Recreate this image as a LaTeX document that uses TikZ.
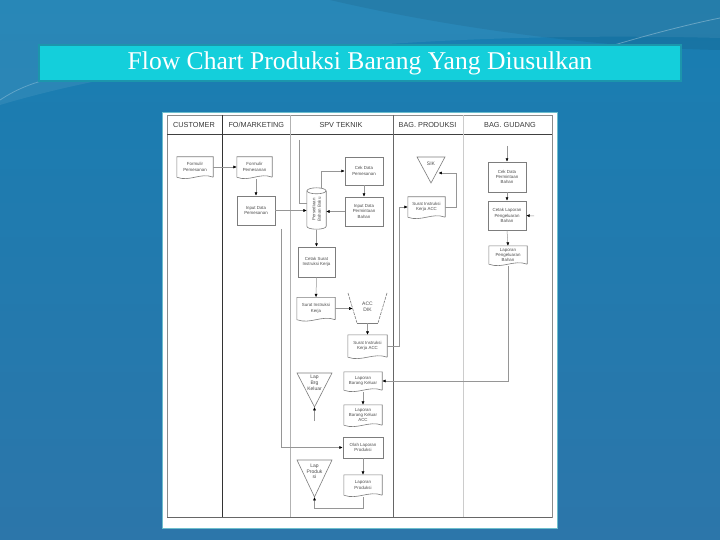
\documentclass[tikz,border=0pt]{standalone}
\usepackage{fontspec}
\setmainfont{Liberation Serif}
\newfontfamily\sansf{Liberation Sans}
\usetikzlibrary{arrows.meta,calc}
\definecolor{bgA}{RGB}{24,126,178}
\definecolor{bgB}{RGB}{44,118,170}
\definecolor{titlefill}{RGB}{20,207,219}
\definecolor{titleedge}{RGB}{28,150,172}
\definecolor{shline}{RGB}{125,125,125}
\definecolor{lnline}{RGB}{150,150,150}
\definecolor{sheetedge}{RGB}{110,190,205}
\newcommand\docoutline[1]{\draw[sh] (#1.south east) -- (#1.north east) -- (#1.north west) -- (#1.south west) .. controls ($(#1.south west)!0.35!(#1.south east)+(0,5)$) and ($(#1.south west)!0.65!(#1.south east)+(0,-5)$) .. (#1.south east);}
\begin{document}
\begin{tikzpicture}[x=1pt,y=-1pt,
  sh/.style={draw=shline,line width=0.6pt},
  lbl/.style={inner sep=0.3pt, align=center, font=\sansf\fontsize{4.4}{5.4}\selectfont, text=black!70},
  box/.style={lbl, sh, fill=white, minimum width=38pt, minimum height=29pt},
  doc/.style={lbl, minimum width=38pt, minimum height=20pt},
  hdr/.style={inner sep=0pt, font=\sansf\fontsize{7.3}{8}\selectfont, text=black!78},
  conn/.style={draw=lnline, line width=0.5pt},
  arr/.style={conn, -{Latex[length=3.4pt,width=3pt,color=black]}},
  lane/.style={line width=0.6pt}
]
\useasboundingbox (0,0) rectangle (720,540);
% background
\shade[top color=bgA,bottom color=bgB] (0,0) rectangle (720,540);
\fill[white,opacity=0.07] (0,0) -- (0,105) .. controls (150,60) and (400,30) .. (720,38) -- (720,0) -- cycle;
\fill[black,opacity=0.07] (330,0) .. controls (450,28) and (600,48) .. (720,50) -- (720,0) -- cycle;
\draw[white,opacity=0.3,line width=0.8pt] (560,62) .. controls (620,42) and (680,26) .. (720,18);
\draw[white,opacity=0.25,line width=0.8pt] (0,100) .. controls (15,90) and (30,84) .. (45,80);
% title
\node[draw=titleedge, line width=1.5pt, fill=titlefill, minimum width=642pt, minimum height=36pt, inner sep=0, font=\fontsize{25.6}{28}\selectfont, text=white] (title) at (360,63) {Flow Chart Produksi Barang Yang Diusulkan};
% sheet
\node[draw=sheetedge, fill=white, line width=0.8pt, minimum width=395pt, minimum height=416pt, inner sep=0] (sheet) at (359.5,320) {};
% lanes
\draw[lane, black!45] (167,115) rectangle (552,517);
\draw[lane, black!75] (167,134) -- (552,134);
\draw[lane, black!80] (222.5,115) -- (222.5,517);
\draw[lane, black!30] (290,115) -- (290,517);
\draw[lane, black!60] (393,115) -- (393,517);
\draw[lane, black!20] (463,115) -- (463,517);
\draw[black!60,line width=1pt] (167,517) -- (552,517);
\node[hdr] (h1) at (194,125) {CUSTOMER};
\node[hdr] (h2) at (256.3,125) {FO/MARKETING};
\node[hdr] (h3) at (341,125) {SPV TEKNIK};
\node[hdr] (h4) at (427.5,125) {BAG. PRODUKSI};
\node[hdr] (h5) at (510,125) {BAG. GUDANG};
% customer / FO
\node[doc, minimum width=36pt] (cf) at (195,167) {Formulir\\Pemesanan}; \docoutline{cf}
\node[doc, minimum width=35pt] (ff) at (254.5,167) {Formulir\\Pemesanan}; \docoutline{ff}
\node[box] (ip) at (256,210.5) {Input Data\\Pemesanan};
% SPV top
\node[box, minimum height=28pt] (cd) at (364,171) {Cek Data\\Pemesanan};
\node[box] (ipb) at (364,211.5) {Input Data\\Permintaan\\Bahan};
\node[minimum width=19pt, minimum height=41pt, inner sep=0] (cyl) at (316.5,208.5) {};
\draw[sh] ($(cyl.north)+(0,3)$) ellipse [x radius=9.5, y radius=3];
\draw[sh] ($(cyl.north west)+(0,3)$) -- ($(cyl.south west)+(0,-3)$) .. controls ($(cyl.south west)+(0,1)$) and ($(cyl.south east)+(0,1)$) .. ($(cyl.south east)+(0,-3)$) -- ($(cyl.north east)+(0,3)$);
\node[lbl, rotate=90] (cyltxt) at ($(cyl.center)+(0,1)$) {Persediaan\\Bahan Baku};
\node[box, minimum width=37pt, minimum height=30pt] (cs) at (316.5,262) {Cetak Surat\\Instruksi Kerja};
\node[doc, minimum height=22pt] (sik) at (316,308.5) {Surat Instruksi\\Kerja}; \docoutline{sik}
% ACC DIK trapezoid
\coordinate (accTL) at (348,293); \coordinate (accTR) at (387,293);
\coordinate (accBL) at (357,323); \coordinate (accBR) at (378,323);
\draw[sh, dashed, dash pattern=on 3pt off 1pt] (accTL) -- (accBL);
\draw[sh, dashed, dash pattern=on 3pt off 1pt] (accTR) -- (accBR);
\draw[sh] (accBL) -- (accBR);
\node[lbl, font=\sansf\fontsize{5}{6}\selectfont] (acc) at (367.5,307) {ACC\\DIK};
\coordinate (accL) at (352.6,308.5);
\coordinate (accB) at (367.5,323);
\node[doc, minimum width=39pt, minimum height=22pt] (sika) at (367.5,346) {Surat Instruksi\\Kerja ACC}; \docoutline{sika}
% SPV bottom
\node[doc, minimum height=18pt] (lbk) at (363,381) {Laporan\\Barang Keluar}; \docoutline{lbk}
\node[doc] (lbka) at (363,415) {Laporan\\Barang Keluar\\ACC}; \docoutline{lbka}
\draw[sh] (297,373) -- (332,373) -- (314.5,407) -- cycle;
\coordinate (lbtA) at (314.5,407);
\node[lbl, font=\sansf\fontsize{5}{5.8}\selectfont] (lbt) at (314.5,383) {Lap\\Brg\\Keluar};
\coordinate (lbtIn) at (314.5,421);
\node[box, minimum width=40pt, minimum height=21pt] (olp) at (363,447.5) {Olah Laporan\\Produksi};
\node[doc] (lp) at (363,485) {Laporan\\Produksi}; \docoutline{lp}
\draw[sh] (297,460) -- (332,460) -- (314.5,497) -- cycle;
\coordinate (lptA) at (314.5,497);
\node[lbl, font=\sansf\fontsize{5}{5.8}\selectfont] (lpt) at (314.5,471.5) {Lap\\Produk\\si};
% Produksi
\draw[sh] (417,157) -- (445,157) -- (431,183) -- cycle;
\node[lbl, font=\sansf\fontsize{5}{6}\selectfont] (sikt) at (431,164) {SIK};
\coordinate (siktR) at (438.5,173);
\node[doc, minimum width=37pt] (psik) at (426.5,207) {Surat Instruksi\\Kerja ACC}; \docoutline{psik}
% Gudang
\node[box, minimum height=30pt] (cdp) at (507,177) {Cek Data\\Permintaan\\Bahan};
\node[box] (clp) at (507,215.5) {Cetak Laporan\\Pengeluaran\\Bahan};
\node[doc, minimum height=18pt] (lpb) at (508,255) {Laporan\\Pengeluaran\\Bahan}; \docoutline{lpb}
\coordinate (g0) at (507,146);
\coordinate (g1) at (534,216);
\coordinate (t1) at (299,140);
\coordinate (j1) at (281,229);
% connectors
\draw[arr] (cf.east) -- (ff.west);
\draw[arr] (ff.south) ++(1.5,2) -- (ip.north);
\draw[arr] (ip.east) -- (ip.east -| cyl.west);
\draw[arr] (j1) |- (olp.west);
\draw[conn] (t1) |- ($(cyl.west)+(0,-5.5)$);
\draw[arr] ($(cyl.north)+(5,0)$) |- (cd.west);
\draw[arr] (cd.south) -- (ipb.north);
\draw[arr] (ipb.west) -- (ipb.west -| cyl.east);
\draw[arr] ($(cyl.south)+(0,1)$) -- (cs.north);
\draw[arr] (cs.south) -- (sik.north);
\draw[arr] (sik.east) -- (sik.east -| accL);
\draw[arr] (accB) -- (sika.north);
\draw[arr] (sika.east) -- ++(12,0) |- (psik.west);
\draw[arr] (psik.east) -- ++(11,0) |- (siktR);
\draw[arr] (g0) -- (cdp.north);
\draw[arr] (cdp.south) -- (clp.north);
\draw[arr] (g1) -- (clp.east);
\draw[arr] (clp.south) -- (lpb.north);
\draw[arr] ($(lpb.south)+(0,2)$) |- (lbk.east);
\draw[arr] ($(lbk.south)+(0,2)$) -- (lbka.north);
\draw[arr] (lbtIn) -- (lbtA);
\draw[arr] (olp.south) -- (lp.north);
\draw[arr] ($(lp.south)+(0,2)$) -- ++(0,11) -| (lptA);
\end{tikzpicture}
\end{document}
